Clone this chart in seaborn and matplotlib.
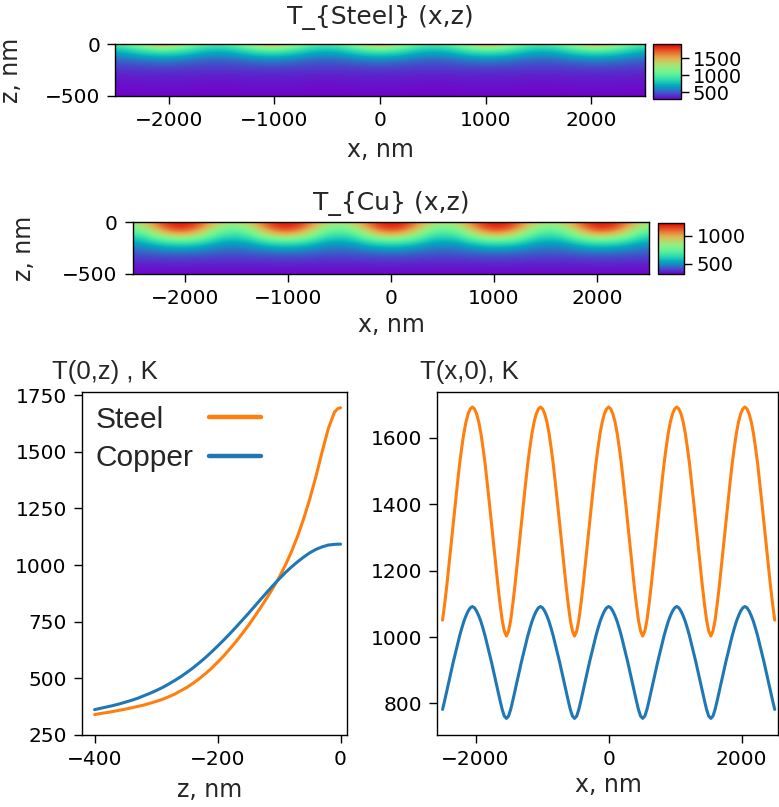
import numpy as np
import pandas as pd
import matplotlib
matplotlib.use("Agg")
import matplotlib.pyplot as plt
from matplotlib.colors import ListedColormap
import seaborn as sns

# ---------------- data ----------------
# Surface profile T(x, 0)
x_surface = [
    -2496, -2464, -2432, -2400, -2368, -2336, -2304, -2272, -2240, -2208, -2176, -2144, -2112, -2080, -2048, -2016,
    -1984, -1952, -1920, -1888, -1856, -1824, -1792, -1760, -1728, -1696, -1664, -1632, -1600, -1568, -1536, -1504,
    -1472, -1440, -1408, -1376, -1344, -1312, -1280, -1248, -1216, -1184, -1152, -1120, -1088, -1056, -1024, -992,
    -960, -928, -896, -864, -832, -800, -768, -736, -704, -672, -640, -608, -576, -544, -512, -480,
    -448, -416, -384, -352, -320, -288, -256, -224, -192, -160, -128, -96, -64, -32, 0, 32,
    64, 96, 128, 160, 192, 224, 256, 288, 320, 352, 384, 416, 448, 480, 512, 544,
    576, 608, 640, 672, 704, 736, 768, 800, 832, 864, 896, 928, 960, 992, 1024, 1056,
    1088, 1120, 1152, 1184, 1216, 1248, 1280, 1312, 1344, 1376, 1408, 1440, 1472, 1504, 1536, 1568,
    1600, 1632, 1664, 1696, 1728, 1760, 1792, 1824, 1856, 1888, 1920, 1952, 1984, 2016, 2048, 2080,
    2112, 2144, 2176, 2208, 2240, 2272, 2304, 2336, 2368, 2400, 2432, 2464, 2496]
steel_surface = [
    1051, 1100, 1155, 1217, 1279, 1341, 1403, 1463, 1521, 1570, 1614, 1648, 1672, 1687, 1693,
    1687, 1672, 1648, 1614, 1570, 1521, 1463, 1403, 1341, 1279, 1217, 1155, 1100, 1051, 1018, 1003,
    1018, 1051, 1100, 1155, 1217, 1279, 1341, 1403, 1463, 1521, 1570, 1614, 1648, 1672, 1687, 1693,
    1687, 1672, 1648, 1614, 1570, 1521, 1463, 1403, 1341, 1279, 1217, 1155, 1100, 1051, 1018, 1003,
    1018, 1051, 1100, 1155, 1217, 1279, 1341, 1403, 1463, 1521, 1570, 1614, 1648, 1672, 1687, 1693,
    1687, 1672, 1648, 1614, 1570, 1521, 1463, 1403, 1341, 1279, 1217, 1155, 1100, 1051, 1018, 1003,
    1018, 1051, 1100, 1155, 1217, 1279, 1341, 1403, 1463, 1521, 1570, 1614, 1648, 1672, 1687, 1693,
    1687, 1672, 1648, 1614, 1570, 1521, 1463, 1403, 1341, 1279, 1217, 1155, 1100, 1051, 1018, 1003,
    1018, 1051, 1100, 1155, 1217, 1279, 1341, 1403, 1463, 1521, 1570, 1614, 1648, 1672, 1687, 1693,
    1687, 1672, 1648, 1614, 1570, 1521, 1463, 1403, 1341, 1279, 1217, 1155, 1100, 1051]
copper_surface = [
    782, 809, 838, 866, 895, 924, 950, 977, 1003, 1026, 1047, 1064, 1078, 1088, 1092,
    1088, 1078, 1064, 1047, 1026, 1003, 977, 950, 924, 895, 866, 838, 809, 782, 762, 755,
    762, 782, 809, 838, 866, 895, 924, 950, 977, 1003, 1026, 1047, 1064, 1078, 1088, 1092,
    1088, 1078, 1064, 1047, 1026, 1003, 977, 950, 924, 895, 866, 838, 809, 782, 762, 755,
    762, 782, 809, 838, 866, 895, 924, 950, 977, 1003, 1026, 1047, 1064, 1078, 1088, 1092,
    1088, 1078, 1064, 1047, 1026, 1003, 977, 950, 924, 895, 866, 838, 809, 782, 762, 755,
    762, 782, 809, 838, 866, 895, 924, 950, 977, 1003, 1026, 1047, 1064, 1078, 1088, 1092,
    1088, 1078, 1064, 1047, 1026, 1003, 977, 950, 924, 895, 866, 838, 809, 782, 762, 755,
    762, 782, 809, 838, 866, 895, 924, 950, 977, 1003, 1026, 1047, 1064, 1078, 1088, 1092,
    1088, 1078, 1064, 1047, 1026, 1003, 977, 950, 924, 895, 866, 838, 809, 782]

# Depth profile T(0, z)
z_depth = [-400, -390, -380, -370, -360, -350, -340, -330, -320, -310,
           -300, -290, -280, -270, -260, -250, -240, -230, -220, -210,
           -200, -190, -180, -170, -160, -150, -140, -130, -120, -110,
           -100, -90, -80, -70, -60, -50, -40, -30, -20, -10, -5, 0]
steel_depth = [340, 345, 349, 354, 359, 364, 370, 376, 382, 390,
               398, 407, 418, 430, 445, 460, 478, 498, 520, 544,
               571, 599, 630, 662, 697, 733, 772, 812, 854, 898,
               945, 998, 1058, 1126, 1204, 1292, 1391, 1499, 1601, 1674, 1689, 1694]
copper_depth = [362, 368, 374, 380, 387, 395, 403, 412, 423, 434,
                446, 459, 474, 490, 507, 526, 546, 568, 591, 616,
                642, 669, 697, 726, 756, 786, 817, 848, 879, 909,
                938, 966, 991, 1014, 1035, 1054, 1069, 1080, 1088, 1091, 1092, 1092]

# 2-D fields T(x, z): rows = depths, columns = x positions
field_x = [-2560, -2432, -2304, -2176, -2048, -1920, -1792, -1664, -1536, -1408,
           -1280, -1152, -1024, -896, -768, -640, -512, -384, -256, -128, 0,
           128, 256, 384, 512, 640, 768, 896, 1024, 1152, 1280, 1408, 1536,
           1664, 1792, 1920, 2048, 2176, 2304, 2432, 2560]
field_z = [0, -50, -100, -150, -200, -250, -300, -350, -400, -450, -500]

steel_field = [
    [976, 1025, 1186, 1459, 1668, 1459, 1186, 1025, 976, 1025, 1186, 1459, 1668, 1459, 1186, 1025, 976, 1025, 1186, 1459, 1668, 1459, 1186, 1025, 976, 1025, 1186, 1459, 1668, 1459, 1186, 1025, 976, 1025, 1186, 1459, 1668, 1459, 1186, 1025, 976],
    [783, 815, 912, 1008, 1057, 1008, 912, 815, 783, 815, 912, 1008, 1057, 1008, 912, 815, 783, 815, 912, 1008, 1057, 1008, 912, 815, 783, 815, 912, 1008, 1057, 1008, 912, 815, 783, 815, 912, 1008, 1057, 1008, 912, 815, 783],
    [654, 670, 735, 791, 815, 791, 735, 670, 654, 670, 735, 791, 815, 791, 735, 670, 654, 670, 735, 791, 815, 791, 735, 670, 654, 670, 735, 791, 815, 791, 735, 670, 654, 670, 735, 791, 815, 791, 735, 670, 654],
    [525, 531, 566, 598, 606, 598, 566, 531, 525, 531, 566, 598, 606, 598, 566, 531, 525, 531, 566, 598, 606, 598, 566, 531, 525, 531, 566, 598, 606, 598, 566, 531, 525, 531, 566, 598, 606, 598, 566, 531, 525],
    [461, 463, 477, 490, 493, 490, 477, 463, 461, 463, 477, 490, 493, 490, 477, 463, 461, 463, 477, 490, 493, 490, 477, 463, 461, 463, 477, 490, 493, 490, 477, 463, 461, 463, 477, 490, 493, 490, 477, 463, 461],
    [413, 414, 417, 420, 421, 420, 417, 414, 413, 414, 417, 420, 421, 420, 417, 414, 413, 414, 417, 420, 421, 420, 417, 414, 413, 414, 417, 420, 421, 420, 417, 414, 413, 414, 417, 420, 421, 420, 417, 414, 413],
    [372, 373, 376, 379, 380, 379, 376, 373, 372, 373, 376, 379, 380, 379, 376, 373, 372, 373, 376, 379, 380, 379, 376, 373, 372, 373, 376, 379, 380, 379, 376, 373, 372, 373, 376, 379, 380, 379, 376, 373, 372],
    [348, 349, 352, 355, 356, 355, 352, 349, 348, 349, 352, 355, 356, 355, 352, 349, 348, 349, 352, 355, 356, 355, 352, 349, 348, 349, 352, 355, 356, 355, 352, 349, 348, 349, 352, 355, 356, 355, 352, 349, 348],
    [332, 333, 336, 339, 340, 339, 336, 333, 332, 333, 336, 339, 340, 339, 336, 333, 332, 333, 336, 339, 340, 339, 336, 333, 332, 333, 336, 339, 340, 339, 336, 333, 332, 333, 336, 339, 340, 339, 336, 333, 332],
    [320, 321, 322, 323, 324, 323, 322, 321, 320, 321, 322, 323, 324, 323, 322, 321, 320, 321, 322, 323, 324, 323, 322, 321, 320, 321, 322, 323, 324, 323, 322, 321, 320, 321, 322, 323, 324, 323, 322, 321, 320],
    [308, 309, 311, 312, 313, 312, 311, 309, 308, 309, 311, 312, 313, 312, 311, 309, 308, 309, 311, 312, 313, 312, 311, 309, 308, 309, 311, 312, 313, 312, 311, 309, 308, 309, 311, 312, 313, 312, 311, 309, 308],
]

copper_field = [
    [864, 920, 1060, 1185, 1210, 1185, 1060, 920, 864, 920, 1060, 1185, 1210, 1185, 1060, 920, 864, 920, 1060, 1185, 1210, 1185, 1060, 920, 864, 920, 1060, 1185, 1210, 1185, 1060, 920, 864, 920, 1060, 1185, 1210, 1185, 1060, 920, 864],
    [780, 845, 990, 1135, 1180, 1135, 990, 845, 780, 845, 990, 1135, 1180, 1135, 990, 845, 780, 845, 990, 1135, 1180, 1135, 990, 845, 780, 845, 990, 1135, 1180, 1135, 990, 845, 780, 845, 990, 1135, 1180, 1135, 990, 845, 780],
    [690, 730, 870, 1000, 1060, 1000, 870, 730, 690, 730, 870, 1000, 1060, 1000, 870, 730, 690, 730, 870, 1000, 1060, 1000, 870, 730, 690, 730, 870, 1000, 1060, 1000, 870, 730, 690, 730, 870, 1000, 1060, 1000, 870, 730, 690],
    [610, 628, 737, 827, 864, 827, 737, 628, 610, 628, 737, 827, 864, 827, 737, 628, 610, 628, 737, 827, 864, 827, 737, 628, 610, 628, 737, 827, 864, 827, 737, 628, 610, 628, 737, 827, 864, 827, 737, 628, 610],
    [537, 546, 601, 646, 664, 646, 601, 546, 537, 546, 601, 646, 664, 646, 601, 546, 537, 546, 601, 646, 664, 646, 601, 546, 537, 546, 601, 646, 664, 646, 601, 546, 537, 546, 601, 646, 664, 646, 601, 546, 537],
    [474, 479, 510, 537, 546, 537, 510, 479, 474, 479, 510, 537, 546, 537, 510, 479, 474, 479, 510, 537, 546, 537, 510, 479, 474, 479, 510, 537, 546, 537, 510, 479, 474, 479, 510, 537, 546, 537, 510, 479, 474],
    [429, 432, 442, 452, 456, 452, 442, 432, 429, 432, 442, 452, 456, 452, 442, 432, 429, 432, 442, 452, 456, 452, 442, 432, 429, 432, 442, 452, 456, 452, 442, 432, 429, 432, 442, 452, 456, 452, 442, 432, 429],
    [392, 393, 397, 401, 402, 401, 397, 393, 392, 393, 397, 401, 402, 401, 397, 393, 392, 393, 397, 401, 402, 401, 397, 393, 392, 393, 397, 401, 402, 401, 397, 393, 392, 393, 397, 401, 402, 401, 397, 393, 392],
    [363, 363, 364, 365, 365, 365, 364, 363, 363, 363, 364, 365, 365, 365, 364, 363, 363, 363, 364, 365, 365, 365, 364, 363, 363, 363, 364, 365, 365, 365, 364, 363, 363, 363, 364, 365, 365, 365, 364, 363, 363],
    [345, 345, 346, 347, 347, 347, 346, 345, 345, 345, 346, 347, 347, 347, 346, 345, 345, 345, 346, 347, 347, 347, 346, 345, 345, 345, 346, 347, 347, 347, 346, 345, 345, 345, 346, 347, 347, 347, 346, 345, 345],
    [329, 329, 329, 329, 329, 329, 329, 329, 329, 329, 329, 329, 329, 329, 329, 329, 329, 329, 329, 329, 329, 329, 329, 329, 329, 329, 329, 329, 329, 329, 329, 329, 329, 329, 329, 329, 329, 329, 329, 329, 329],
]

materials = ["Steel", "Copper"]
colors = {"Steel": "#ff7f0e", "Copper": "#1f77b4"}
steel_cbar_ticks = [500, 1000, 1500]
copper_cbar_ticks = [500, 1000]
steel_range = (300, 1910)
copper_range = (320, 1226)

assert len(x_surface) == len(steel_surface) == len(copper_surface)
assert len(z_depth) == len(steel_depth) == len(copper_depth)

# ---------------- style ----------------
sns.set_theme(style="ticks")
plt.rcParams["font.family"] = ["DejaVu Sans"]
plt.rcParams.update({
    "axes.edgecolor": "black",
    "axes.linewidth": 1.0,
    "xtick.color": "black",
    "ytick.color": "black",
    "xtick.major.size": 5.8,
    "ytick.major.size": 5.8,
    "xtick.major.width": 1.0,
    "ytick.major.width": 1.0,
    "xtick.major.pad": 5.0,
    "ytick.major.pad": 5.0,
    "xtick.labelsize": 14.5,
    "ytick.labelsize": 14.5,
    "axes.facecolor": "white",
    "figure.facecolor": "white",
})

# rainbow colour map, slightly deepened like the picture
_base = plt.get_cmap("rainbow")(np.linspace(0, 1, 256))
_base[:, :3] *= np.array([0.9, 0.95, 0.8])
field_cmap = ListedColormap(_base)

W, H = 779, 807
fig = plt.figure(figsize=(W / 100, H / 100), dpi=100)


def ax_px(x0, y0, x1, y1):
    return fig.add_axes([x0 / W, 1 - y1 / H, (x1 - x0) / W, (y1 - y0) / H])


def text_px(x, y, s, **kw):
    return fig.text(x / W, 1 - y / H, s, **kw)


def draw_field(ax, cax, field, vrange, cticks):
    arr = np.array(field, dtype=float)
    dx = (field_x[1] - field_x[0]) / 2
    dz = abs(field_z[1] - field_z[0]) / 2
    im = ax.imshow(arr, cmap=field_cmap, vmin=vrange[0], vmax=vrange[1],
                   aspect="auto", origin="upper",
                   extent=[field_x[0] - dx, field_x[-1] + dx,
                           field_z[-1] - dz, field_z[0] + dz],
                   interpolation="bicubic", interpolation_stage="data")
    ax.set_xlim(-2510, 2510)
    ax.set_ylim(-500, 0)
    ax.set_xticks([-2000, -1000, 0, 1000, 2000])
    ax.set_yticks([-500, 0])
    cb = fig.colorbar(im, cax=cax, ticks=cticks)
    cb.outline.set_linewidth(1.0)
    cb.outline.set_edgecolor("black")
    cax.tick_params(labelsize=14, length=5.8, width=1.0, pad=3)
    return im


# ---------------- heatmaps ----------------
ax1 = ax_px(115, 44.3, 645, 95.7)
cax1 = ax_px(652.7, 44.3, 680.7, 99)
draw_field(ax1, cax1, steel_field, steel_range, steel_cbar_ticks)
text_px(380, 18, "T_{Steel} (x,z)", ha="center", va="center", fontsize=18)
text_px(11, 70, "z, nm", ha="center", va="center", rotation=90, fontsize=17)
text_px(380, 150, "x, nm", ha="center", va="center", fontsize=17)

ax2 = ax_px(132.7, 222.3, 649.3, 273.7)
cax2 = ax_px(658.3, 223.3, 684.3, 274)
draw_field(ax2, cax2, copper_field, copper_range, copper_cbar_ticks)
text_px(391, 203, "T_{Cu} (x,z)", ha="center", va="center", fontsize=18)
text_px(24, 248, "z, nm", ha="center", va="center", rotation=90, fontsize=17)
text_px(391, 325, "x, nm", ha="center", va="center", fontsize=17)

# ---------------- depth profile ----------------
df_depth = pd.DataFrame({
    "z": z_depth * 2,
    "T": steel_depth + copper_depth,
    "material": ["Steel"] * len(z_depth) + ["Copper"] * len(z_depth),
})
ax3 = ax_px(81.7, 392.3, 346.7, 735)
sns.lineplot(data=df_depth, x="z", y="T", hue="material", hue_order=materials,
             palette=colors, linewidth=2.2, ax=ax3, legend=False, sort=False)
ax3.set_xlim(-421, 10)
ax3.set_ylim(250, 1762)
ax3.set_xticks([-400, -200, 0])
ax3.set_yticks([250, 500, 750, 1000, 1250, 1500, 1750])
ax3.set_xlabel("")
ax3.set_ylabel("")
text_px(52, 372, "T(0,z) , K", ha="left", va="center", fontsize=18.5,
        family="Liberation Sans")
text_px(210, 790, "z, nm", ha="center", va="center", fontsize=17)

handles = [plt.Line2D([], [], color=colors[m], linewidth=3.2) for m in materials]
leg = ax3.legend(handles, materials, loc="upper left", frameon=False, markerfirst=False,
                 prop={"family": "Liberation Sans", "size": 21.5},
                 handlelength=1.75, handletextpad=0.5, labelspacing=0.35,
                 borderaxespad=0.05, bbox_to_anchor=(0.0, 1.0))
# left-align the labels, handles in a common column on the right
try:
    for column in leg._legend_handle_box.get_children():
        for row in column.get_children():
            row.mode = "expand"
            row.width = 166
except Exception:
    pass

# ---------------- surface profile ----------------
df_surf = pd.DataFrame({
    "x": x_surface * 2,
    "T": steel_surface + copper_surface,
    "material": ["Steel"] * len(x_surface) + ["Copper"] * len(x_surface),
})
ax4 = ax_px(437.3, 391.7, 778.3, 735)
sns.lineplot(data=df_surf, x="x", y="T", hue="material", hue_order=materials,
             palette=colors, linewidth=2.2, ax=ax4, legend=False, sort=False)
ax4.set_xlim(-2575, 2550)
ax4.set_ylim(705, 1739)
ax4.set_xticks([-2000, 0, 2000])
ax4.set_yticks([800, 1000, 1200, 1400, 1600])
ax4.set_xlabel("")
ax4.set_ylabel("")
text_px(420, 372, "T(x,0), K", ha="left", va="center", fontsize=18.5,
        family="Liberation Sans")
text_px(608, 785, "x, nm", ha="center", va="center", fontsize=17)

for ax in (ax1, ax2, ax3, ax4):
    for sp in ax.spines.values():
        sp.set_visible(True)
        sp.set_color("black")
        sp.set_linewidth(1.0)

fig.savefig("out.png", dpi=100)
